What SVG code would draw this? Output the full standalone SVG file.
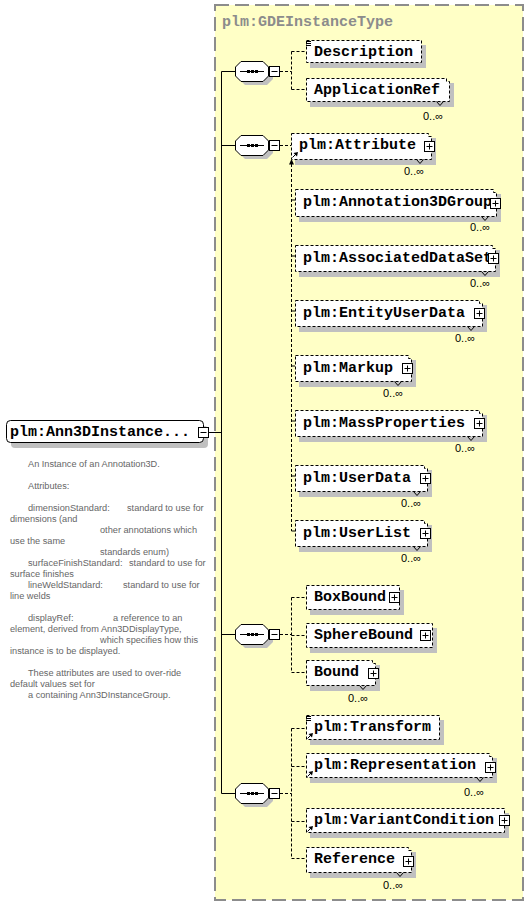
<svg xmlns="http://www.w3.org/2000/svg" xmlns:xlink="http://www.w3.org/1999/xlink" width="530" height="906" viewBox="0 0 530 906">
<style>
.bg{fill:#ffffc6;stroke:#8c8c8c;stroke-width:2;stroke-dasharray:14 6}
.sh{fill:#c0c0c0}
.box{fill:#fff;stroke:#000;stroke-dasharray:3 2}
.sbox{fill:#fff;stroke:#000}
.tb{font-family:"Liberation Mono","Courier New",monospace;font-weight:bold;font-size:15px;fill:#000}
.title{font-family:"Liberation Mono","Courier New",monospace;font-weight:bold;font-size:15px;fill:#8c8c8c}
.occ{font-family:"Liberation Sans",Arial,sans-serif;font-size:11px;fill:#000}
.doc{font-family:"Liberation Sans",Arial,sans-serif;font-size:9.2px;fill:#666}
.ln{stroke:#000;fill:none}
.dl{stroke:#000;fill:none;stroke-dasharray:3 2}
.v{stroke:#000;fill:none}
</style>
<defs>
<g id="minus"><rect x="0.5" y="0.5" width="10" height="10" fill="#fff" stroke="#000"/><path d="M2.5 5.5H8.5" stroke="#000"/></g>
<g id="plus"><rect x="0.5" y="0.5" width="10" height="10" fill="#fff" stroke="#000"/><path d="M2.5 5.5H8.5M5.5 2.5V8.5" stroke="#000"/></g>
<g id="seq">
<polygon points="10,4 32,4 38,10 38,18 32,24 10,24 4,18 4,10" class="sh"/>
<polygon points="6,0.5 28,0.5 33.5,6 33.5,15 28,20.5 6,20.5 0.5,15 0.5,6" fill="#fff" stroke="#000"/>
<path d="M5 10.5H29" stroke="#000"/>
<rect x="12" y="9" width="3" height="3" fill="#000"/><rect x="16" y="9" width="3" height="3" fill="#000"/><rect x="20" y="9" width="3" height="3" fill="#000"/>
<use xlink:href="#minus" x="34" y="5"/>
</g>
<g id="ref"><path d="M0.5 -0.5L4 -4" stroke="#000"/><polygon points="6,-6 1.5,-5 5,-1.5" fill="#000"/></g>
<g id="doci"><path d="M0 1.5H5M0 3.5H5M0 5.5H5" stroke="#000"/></g>
</defs>

<rect x="215" y="5" width="308" height="895" class="bg"/>
<text x="222" y="26" class="title">plm:GDEInstanceType</text>

<g id="connectors">
<path class="ln" d="M208.5 432.5H221.5M221.5 71.5V793.5M221.5 71.5H235M221.5 145.5H235M221.5 634.5H235M221.5 793.5H235"/>
<path class="dl" d="M280 71.5H291.5M291.5 51.5V89.5M291.5 51.5H306M291.5 89.5H306"/>
<path class="dl" d="M280 145.5H291"/>
<path class="dl" d="M291.5 164V531"/>
<polygon points="291.5,159 289,164.5 294,164.5" fill="#000"/>
<path class="ln" d="M292 200H295M292 256H295M292 311H295M292 366H295M292 421H295M292 476H295M291.5 531H295"/>
<path class="dl" d="M280 634.5H291.5M291.5 597.5V672.5M291.5 597.5H306M291.5 635.5H306M291.5 672.5H306"/>
<path class="dl" d="M280 793.5H291.5M291.5 728.5V858.5M291.5 728.5H306M291.5 766.5H306M291.5 821.5H306M291.5 858.5H306"/>
</g>

<g id="root">
<rect x="11" y="426" width="197" height="22" rx="4" class="sh"/>
<rect x="6.5" y="420.5" width="197" height="22" rx="4" class="sbox"/>
<text x="10" y="436" class="tb">plm:Ann3DInstance...</text>
<use xlink:href="#minus" x="198" y="427"/>
</g>

<g id="seq1"><use xlink:href="#seq" x="235" y="61"/></g>
<g id="seq2"><use xlink:href="#seq" x="235" y="135"/></g>
<g id="seq3"><use xlink:href="#seq" x="235" y="624"/></g>
<g id="seq4"><use xlink:href="#seq" x="235" y="783"/></g>

<g id="description">
<rect x="310" y="45" width="116" height="23" class="sh"/>
<rect x="306.5" y="40.5" width="115" height="22" class="box"/>
<use xlink:href="#doci" x="306" y="40"/>
<text x="314" y="55.5" class="tb">Description</text>
</g>

<g id="applicationref">
<rect x="310" y="83" width="144" height="24" class="sh"/>
<path class="box" d="M306.5 78.5H446.5V81.5H449.5V101.5H306.5Z"/>
<path class="v" d="M436.5 101.5L440 105.5L443.5 101.5"/>
<text x="314" y="93.5" class="tb">ApplicationRef</text>
<text x="423" y="120" class="occ">0..∞</text>
</g>

<g id="attribute">
<rect x="295" y="138" width="141" height="27" class="sh"/>
<path class="box" d="M291.5 133.5H428.5V136.5H431.5V159.5H291.5Z"/>
<path class="v" d="M416.5 159.5L420 163.5L423.5 159.5"/>
<text x="299" y="149" class="tb">plm:Attribute</text>
<use xlink:href="#plus" x="424" y="141"/>
<use xlink:href="#ref" x="292" y="158"/>
<text x="404" y="175" class="occ">0..∞</text>
</g>

<g id="annotation3dgroup">
<rect x="299" y="194" width="202" height="28" class="sh"/>
<path class="box" d="M295.5 189.5H493.5V192.5H496.5V216.5H295.5Z"/>
<path class="v" d="M481.5 216.5L485 220.5L488.5 216.5"/>
<text x="303" y="206" class="tb">plm:Annotation3DGroup</text>
<use xlink:href="#plus" x="490" y="198"/>
<text x="470" y="231" class="occ">0..∞</text>
</g>

<g id="associateddataset">
<rect x="299" y="250" width="201" height="27" class="sh"/>
<path class="box" d="M295.5 245.5H492.5V248.5H495.5V271.5H295.5Z"/>
<path class="v" d="M481.5 271.5L485 275.5L488.5 271.5"/>
<text x="303" y="262" class="tb">plm:AssociatedDataSet</text>
<use xlink:href="#plus" x="488" y="253"/>
<text x="470" y="287" class="occ">0..∞</text>
</g>

<g id="entityuserdata">
<rect x="299" y="305" width="188" height="27" class="sh"/>
<path class="box" d="M295.5 300.5H479.5V303.5H482.5V326.5H295.5Z"/>
<path class="v" d="M467.5 326.5L471 330.5L474.5 326.5"/>
<text x="303" y="317" class="tb">plm:EntityUserData</text>
<use xlink:href="#plus" x="474" y="308"/>
<text x="455" y="342" class="occ">0..∞</text>
</g>

<g id="markup">
<rect x="299" y="360" width="117" height="27" class="sh"/>
<path class="box" d="M295.5 355.5H408.5V358.5H411.5V381.5H295.5Z"/>
<path class="v" d="M394.5 381.5L398 385.5L401.5 381.5"/>
<text x="303" y="372" class="tb">plm:Markup</text>
<use xlink:href="#plus" x="402" y="363"/>
<text x="383" y="397" class="occ">0..∞</text>
</g>

<g id="massproperties">
<rect x="299" y="415" width="188" height="27" class="sh"/>
<path class="box" d="M295.5 410.5H479.5V413.5H482.5V436.5H295.5Z"/>
<path class="v" d="M467.5 436.5L471 440.5L474.5 436.5"/>
<text x="303" y="427" class="tb">plm:MassProperties</text>
<use xlink:href="#plus" x="474" y="418"/>
<text x="455" y="452" class="occ">0..∞</text>
</g>

<g id="userdata">
<rect x="299" y="470" width="133" height="27" class="sh"/>
<path class="box" d="M295.5 465.5H424.5V468.5H427.5V491.5H295.5Z"/>
<path class="v" d="M413.5 491.5L417 495.5L420.5 491.5"/>
<text x="303" y="482" class="tb">plm:UserData</text>
<use xlink:href="#plus" x="420" y="473"/>
<text x="401" y="507" class="occ">0..∞</text>
</g>

<g id="userlist">
<rect x="299" y="525" width="133" height="27" class="sh"/>
<path class="box" d="M295.5 520.5H424.5V523.5H427.5V546.5H295.5Z"/>
<path class="v" d="M413.5 546.5L417 550.5L420.5 546.5"/>
<text x="303" y="537" class="tb">plm:UserList</text>
<use xlink:href="#plus" x="420" y="528"/>
<text x="401" y="562" class="occ">0..∞</text>
</g>

<g id="boxbound">
<rect x="310" y="590" width="94" height="25" class="sh"/>
<rect x="306.5" y="585.5" width="93" height="24" class="box"/>
<text x="314" y="600.5" class="tb">BoxBound</text>
<use xlink:href="#plus" x="389" y="592"/>
</g>

<g id="spherebound">
<rect x="310" y="628" width="127" height="25" class="sh"/>
<rect x="306.5" y="623.5" width="126" height="24" class="box"/>
<text x="314" y="638.5" class="tb">SphereBound</text>
<use xlink:href="#plus" x="420" y="630"/>
</g>

<g id="bound">
<rect x="310" y="665" width="70" height="26" class="sh"/>
<path class="box" d="M306.5 660.5H372.5V663.5H375.5V685.5H306.5Z"/>
<path class="v" d="M359.5 685.5L363 689.5L366.5 685.5"/>
<text x="314" y="676" class="tb">Bound</text>
<use xlink:href="#plus" x="368" y="668"/>
<text x="348" y="702" class="occ">0..∞</text>
</g>

<g id="transform">
<rect x="310" y="720" width="134" height="25" class="sh"/>
<rect x="306.5" y="715.5" width="133" height="24" class="box"/>
<use xlink:href="#doci" x="306" y="715"/>
<use xlink:href="#ref" x="307" y="739"/>
<text x="314" y="730.5" class="tb">plm:Transform</text>
</g>

<g id="representation">
<rect x="310" y="758" width="187" height="25" class="sh"/>
<path class="box" d="M306.5 753.5H489.5V756.5H492.5V777.5H306.5Z"/>
<path class="v" d="M476.5 777.5L480 781.5L483.5 777.5"/>
<use xlink:href="#ref" x="307" y="777"/>
<text x="314" y="768.5" class="tb">plm:Representation</text>
<use xlink:href="#plus" x="485" y="762"/>
<text x="464" y="796" class="occ">0..∞</text>
</g>

<g id="variantcondition">
<rect x="310" y="813" width="199" height="25" class="sh"/>
<rect x="306.5" y="808.5" width="198" height="24" class="box"/>
<use xlink:href="#ref" x="307" y="832"/>
<text x="314" y="823.5" class="tb">plm:VariantCondition</text>
<use xlink:href="#plus" x="499" y="815"/>
</g>

<g id="reference">
<rect x="310" y="852" width="106" height="26" class="sh"/>
<path class="box" d="M306.5 847.5H408.5V850.5H411.5V872.5H306.5Z"/>
<path class="v" d="M396.5 872.5L400 876.5L403.5 872.5"/>
<text x="314" y="862.5" class="tb">Reference</text>
<use xlink:href="#plus" x="403" y="856"/>
<text x="383" y="889" class="occ">0..∞</text>
</g>

<g id="documentation" class="doc">
<text x="28" y="466.5">An Instance of an Annotation3D.</text>
<text x="28" y="488.5">Attributes:</text>
<text x="28" y="510.5">dimensionStandard:</text><text x="127" y="510.5">standard to use for</text>
<text x="10" y="521.5">dimensions (and</text>
<text x="100" y="532.5">other annotations which</text>
<text x="10" y="543.5">use the same</text>
<text x="100" y="554.5">standards enum)</text>
<text x="28" y="565.5">surfaceFinishStandard:</text><text x="129" y="565.5">standard to use for</text>
<text x="10" y="576.5">surface finishes</text>
<text x="28" y="587.5">lineWeldStandard:</text><text x="123" y="587.5">standard to use for</text>
<text x="10" y="598.5">line welds</text>
<text x="28" y="620.5">displayRef:</text><text x="113" y="620.5">a reference to an</text>
<text x="10" y="631.5">element, derived from Ann3DDisplayType,</text>
<text x="100" y="642.5">which specifies how this</text>
<text x="10" y="653.5">instance is to be displayed.</text>
<text x="28" y="675.5">These attributes are used to over-ride</text>
<text x="10" y="686.5">default values set for</text>
<text x="28" y="697.5">a containing Ann3DInstanceGroup.</text>
</g>
</svg>
